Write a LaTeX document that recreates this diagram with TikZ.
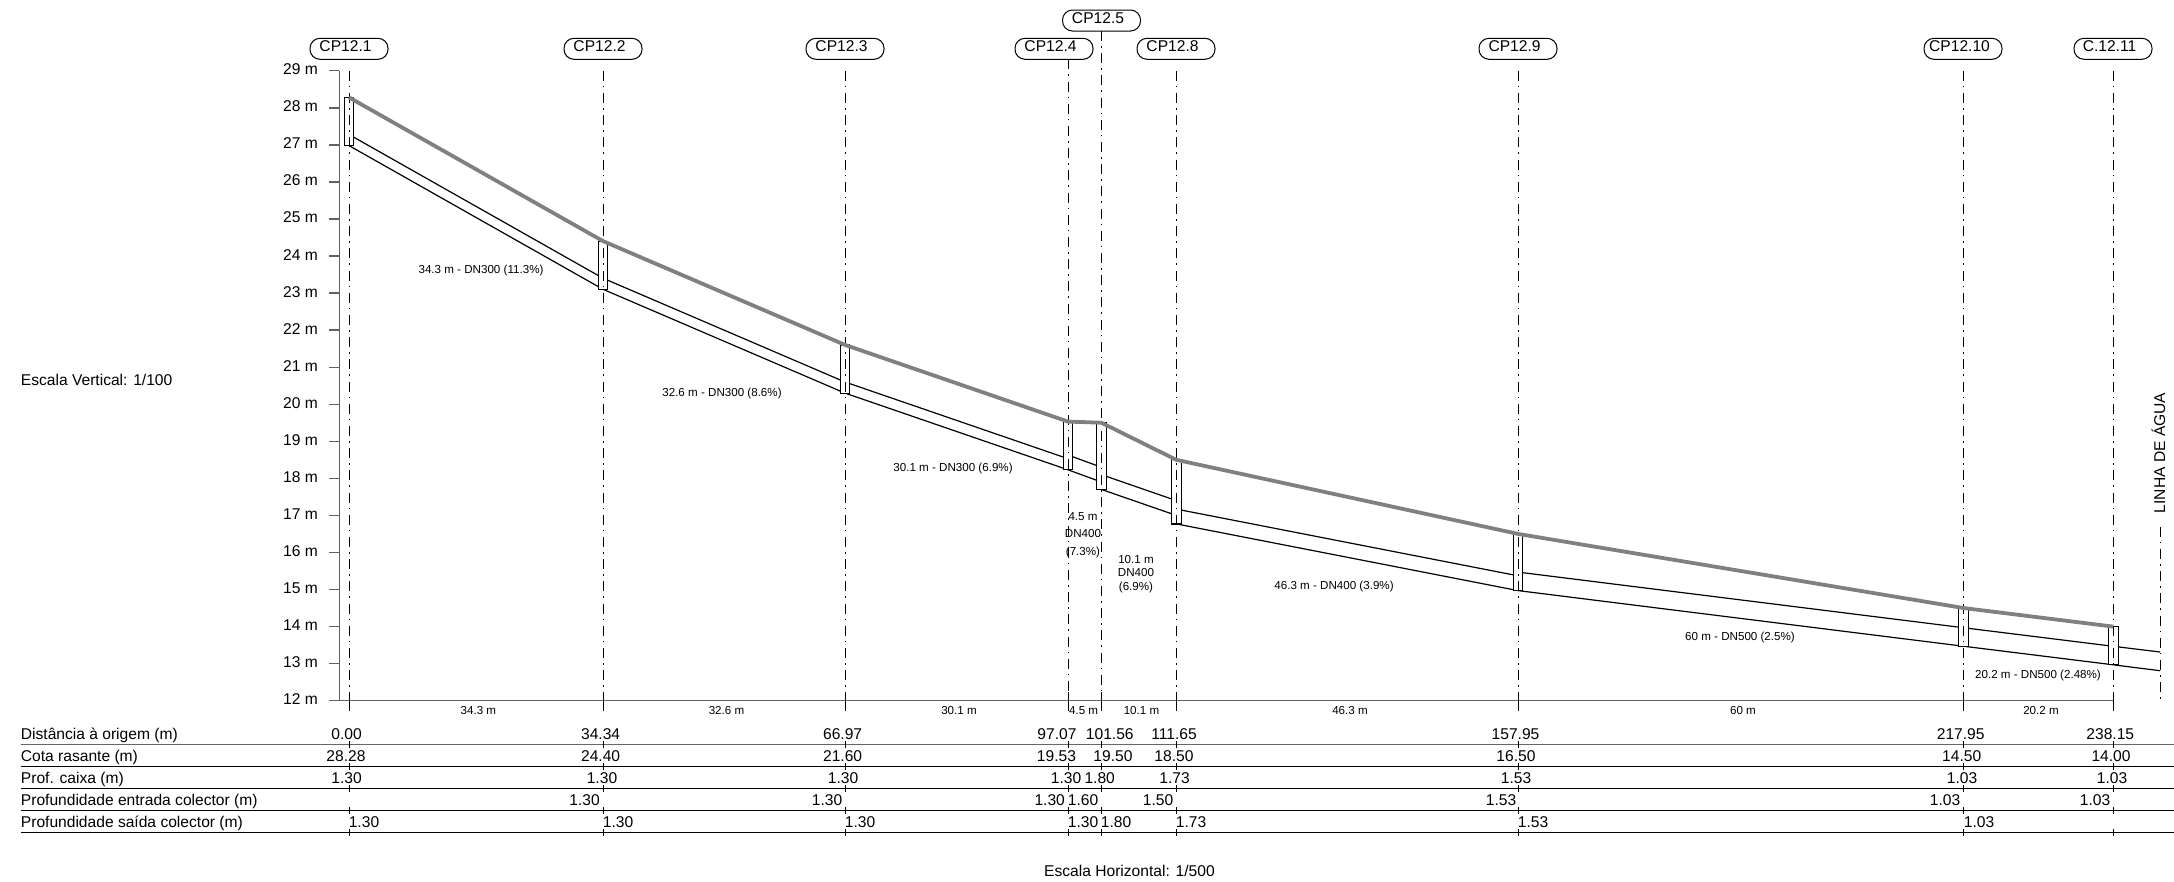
\documentclass[tikz,border=0pt]{standalone}
\usepackage{fontspec}
\setmainfont{Liberation Sans}
\usepackage{tikz}

\begin{document}
\begin{tikzpicture}[x=1pt,y=-1pt,
    txt/.style={inner sep=0pt,text height=11pt,text depth=0pt,font=\fontsize{15.6pt}{18pt}\selectfont},
    small/.style={inner sep=0pt,text height=8.2pt,text depth=0pt,font=\fontsize{11.6pt}{14pt}\selectfont},
    pill/.style={draw,line width=1pt,rounded corners=10pt,minimum width=78pt,minimum height=21pt,inner sep=0pt,text height=11pt,text depth=5pt,font=\fontsize{15.6pt}{18pt}\selectfont},
    eixo/.style={draw=black!62,line width=1.4pt},
    pipe/.style={draw=black,line width=1.2pt},
    rasante/.style={draw=black!50,line width=3.8pt,line join=round},
    caixa/.style={draw=black,fill=white,line width=1.2pt},
    centro/.style={draw=black,line width=1pt,dash pattern=on 10pt off 5pt on 1.6pt off 5.6pt},
    regua/.style={draw=black,line width=1pt},
    marca/.style={draw=black,line width=0.8pt}]
    \useasboundingbox (0,0) rectangle (2174,881);

    % Road level at each station
    \coordinate (R1) at (349,97.4);
    \coordinate (R2) at (603,241.1);
    \coordinate (R3) at (845,344.9);
    \coordinate (R4) at (1068,421.6);
    \coordinate (R5) at (1101.3,422.7);
    \coordinate (R8) at (1176.3,459.8);
    \coordinate (R9) at (1518,533.9);
    \coordinate (R10) at (1963.3,608);
    \coordinate (R11) at (2113.3,626.6);

    % Top and bottom ends of the station lines
    \coordinate (T1) at (349,70.7);
    \coordinate (T2) at (603,70.7);
    \coordinate (T3) at (845,70.7);
    \coordinate (T4) at (1068,59.3);
    \coordinate (T5) at (1101.3,31);
    \coordinate (T8) at (1176.3,70.7);
    \coordinate (T9) at (1518,70.7);
    \coordinate (T10) at (1963.3,70.7);
    \coordinate (T11) at (2113.3,70.7);
    \coordinate (B1) at (349,710.7);
    \coordinate (B2) at (603,710.7);
    \coordinate (B3) at (845,710.7);
    \coordinate (B4) at (1068,710.7);
    \coordinate (B5) at (1101.3,710.7);
    \coordinate (B8) at (1176.3,710.7);
    \coordinate (B9) at (1518,710.7);
    \coordinate (B10) at (1963.3,710.7);
    \coordinate (B11) at (2113.3,710.7);

    % Station names
    \node[pill] (cp1) at (349,48.8) {CP12.1\kern7pt};
    \node[pill] (cp2) at (603,48.8) {CP12.2\kern7pt};
    \node[pill] (cp3) at (845,48.8) {CP12.3\kern7pt};
    \node[pill] (cp4) at (1054,48.8) {CP12.4\kern7pt};
    \node[pill] (cp5) at (1101.5,20.5) {CP12.5\kern7pt};
    \node[pill] (cp8) at (1176,48.8) {CP12.8\kern7pt};
    \node[pill] (cp9) at (1518,48.8) {CP12.9\kern7pt};
    \node[pill] (cp10) at (1963,48.8) {CP12.10\kern7pt};
    \node[pill] (cp11) at (2113,48.8) {C.12.11\kern7pt};

    % Vertical scale
    \draw[eixo] (339.3,70.7) -- (339.3,700.7) -- (2113.3,700.7);
    \draw[eixo] (329,70.7) -- (339.3,70.7);
    \draw[eixo] (329,107.8) -- (339.3,107.8);
    \draw[eixo] (329,144.8) -- (339.3,144.8);
    \draw[eixo] (329,181.9) -- (339.3,181.9);
    \draw[eixo] (329,218.9) -- (339.3,218.9);
    \draw[eixo] (329,256) -- (339.3,256);
    \draw[eixo] (329,293.1) -- (339.3,293.1);
    \draw[eixo] (329,330.1) -- (339.3,330.1);
    \draw[eixo] (329,367.2) -- (339.3,367.2);
    \draw[eixo] (329,404.2) -- (339.3,404.2);
    \draw[eixo] (329,441.3) -- (339.3,441.3);
    \draw[eixo] (329,478.3) -- (339.3,478.3);
    \draw[eixo] (329,515.4) -- (339.3,515.4);
    \draw[eixo] (329,552.5) -- (339.3,552.5);
    \draw[eixo] (329,589.5) -- (339.3,589.5);
    \draw[eixo] (329,626.6) -- (339.3,626.6);
    \draw[eixo] (329,663.6) -- (339.3,663.6);
    \draw[eixo] (329,700.7) -- (339.3,700.7);
    \node[txt,anchor=east] (m29) at (318,69.2) {29 m};
    \node[txt,anchor=east] (m28) at (318,106.3) {28 m};
    \node[txt,anchor=east] (m27) at (318,143.3) {27 m};
    \node[txt,anchor=east] (m26) at (318,180.4) {26 m};
    \node[txt,anchor=east] (m25) at (318,217.4) {25 m};
    \node[txt,anchor=east] (m24) at (318,254.5) {24 m};
    \node[txt,anchor=east] (m23) at (318,291.6) {23 m};
    \node[txt,anchor=east] (m22) at (318,328.6) {22 m};
    \node[txt,anchor=east] (m21) at (318,365.7) {21 m};
    \node[txt,anchor=east] (m20) at (318,402.7) {20 m};
    \node[txt,anchor=east] (m19) at (318,439.8) {19 m};
    \node[txt,anchor=east] (m18) at (318,476.8) {18 m};
    \node[txt,anchor=east] (m17) at (318,513.9) {17 m};
    \node[txt,anchor=east] (m16) at (318,551) {16 m};
    \node[txt,anchor=east] (m15) at (318,588) {15 m};
    \node[txt,anchor=east] (m14) at (318,625.1) {14 m};
    \node[txt,anchor=east] (m13) at (318,662.1) {13 m};
    \node[txt,anchor=east] (m12) at (318,699.2) {12 m};

    % Pipe, bottom line
    \draw[pipe] (349,145.6) -- (603,289.3) -- (845,393.1) -- (1068,469.8) -- (1101.3,482);
    \draw[pipe] (1101.3,489.4) -- (1176.3,515.4);
    \draw[pipe] (1176.3,523.9) -- (1518,590.6) -- (1963.3,646.2) -- (2113.3,664.8) -- (2160,670.7);

    % Pipe, top line
    \draw[pipe] (349,134.5) -- (603,278.2);
    \draw[pipe] (603,278.2) -- (845,382);
    \draw[pipe] (845,382) -- (1068,458.7);
    \draw[pipe] (1068,455) -- (1101.3,467.2);
    \draw[pipe] (1101.3,474.6) -- (1176.3,500.6);
    \draw[pipe] (1176.3,509.1) -- (1518,575.8);
    \draw[pipe] (1518,572.1) -- (1963.3,627.7);
    \draw[pipe] (1963.3,627.7) -- (2113.3,646.3) -- (2160,652);

    % Inspection boxes
    \draw[caixa] (344.2,97.4) rectangle (353.8,145.6);
    \draw[caixa] (598.2,241.1) rectangle (607.8,289.3);
    \draw[caixa] (840.2,344.9) rectangle (849.8,393.1);
    \draw[caixa] (1063.2,421.6) rectangle (1072.8,469.8);
    \draw[caixa] (1096.5,422.7) rectangle (1106.1,489.4);
    \draw[caixa] (1171.5,459.8) rectangle (1181.1,523.9);
    \draw[caixa] (1513.2,533.9) rectangle (1522.8,590.6);
    \draw[caixa] (1958.5,608) rectangle (1968.1,646.2);
    \draw[caixa] (2108.5,626.6) rectangle (2118.1,664.8);

    % Station lines
    \draw[centro] (T1) -- (B1);
    \draw[centro] (T2) -- (B2);
    \draw[centro] (T3) -- (B3);
    \draw[centro] (T4) -- (B4);
    \draw[centro] (T5) -- (B5);
    \draw[centro] (T8) -- (B8);
    \draw[centro] (T9) -- (B9);
    \draw[centro] (T10) -- (B10);
    \draw[centro] (T11) -- (B11);
    \draw[line width=1pt] (349,692) -- (B1);
    \draw[line width=1pt] (603,692) -- (B2);
    \draw[line width=1pt] (845,692) -- (B3);
    \draw[line width=1pt] (1068,692) -- (B4);
    \draw[line width=1pt] (1101.3,692) -- (B5);
    \draw[line width=1pt] (1176.3,692) -- (B8);
    \draw[line width=1pt] (1518,692) -- (B9);
    \draw[line width=1pt] (1963.3,692) -- (B10);
    \draw[line width=1pt] (2113.3,692) -- (B11);

    % Road surface
    \draw[rasante] (R1) -- (R2) -- (R3) -- (R4) -- (R5) -- (R8) -- (R9) -- (R10) -- (R11);

    % Water line
    \draw[centro] (2160,526.7) -- (2160,700.7);
    \node[txt,rotate=90] (agua) at (2159.5,453) {LINHA DE ÁGUA};

    % Pipe labels
    \node[small] (tr1) at (481,269) {34.3 m - DN300 (11.3\%)};
    \node[small] (tr2) at (722,392.4) {32.6 m - DN300 (8.6\%)};
    \node[small] (tr3) at (953,467) {30.1 m - DN300 (6.9\%)};
    \node[small] (tr4a) at (1083,516.7) {4.5 m};
    \node[small] (tr4b) at (1083,533.5) {DN400};
    \node[small] (tr4c) at (1083,551) {(7.3\%)};
    \node[small] (tr5a) at (1136,559) {10.1 m};
    \node[small] (tr5b) at (1136,572.7) {DN400};
    \node[small] (tr5c) at (1136,586.7) {(6.9\%)};
    \node[small] (tr6) at (1334,585) {46.3 m - DN400 (3.9\%)};
    \node[small] (tr7) at (1740,636.4) {60 m - DN500 (2.5\%)};
    \node[small] (tr8) at (2038,674) {20.2 m - DN500 (2.48\%)};

    % Lengths under the axis
    \node[small] (len1) at (478.4,710) {34.3 m};
    \node[small] (len2) at (726.5,710) {32.6 m};
    \node[small] (len3) at (959,710) {30.1 m};
    \node[small] (len4) at (1083.6,710) {4.5 m};
    \node[small] (len5) at (1141.5,710) {10.1 m};
    \node[small] (len6) at (1350,710) {46.3 m};
    \node[small] (len7) at (1743,710) {60 m};
    \node[small] (len8) at (2041,710) {20.2 m};

    % Table rules
    \draw[regua,draw=black!60] (20.7,744.3) -- (2174,744.3);
    \draw[regua] (20.7,766.7) -- (2174,766.7);
    \draw[regua] (20.7,788.3) -- (2174,788.3);
    \draw[regua] (20.7,810.3) -- (2174,810.3);
    \draw[regua] (20.7,832.3) -- (2174,832.3);

    % Table ticks
    \draw[marca] (349,741) -- (349,747.6) (349,763.4) -- (349,770) (349,785) -- (349,791.6) (349,807) -- (349,813.6) (349,829) -- (349,835.6);
    \draw[marca] (603,741) -- (603,747.6) (603,763.4) -- (603,770) (603,785) -- (603,791.6) (603,807) -- (603,813.6) (603,829) -- (603,835.6);
    \draw[marca] (845,741) -- (845,747.6) (845,763.4) -- (845,770) (845,785) -- (845,791.6) (845,807) -- (845,813.6) (845,829) -- (845,835.6);
    \draw[marca] (1068,741) -- (1068,747.6) (1068,763.4) -- (1068,770) (1068,785) -- (1068,791.6) (1068,807) -- (1068,813.6) (1068,829) -- (1068,835.6);
    \draw[marca] (1101.3,741) -- (1101.3,747.6) (1101.3,763.4) -- (1101.3,770) (1101.3,785) -- (1101.3,791.6) (1101.3,807) -- (1101.3,813.6) (1101.3,829) -- (1101.3,835.6);
    \draw[marca] (1176.3,741) -- (1176.3,747.6) (1176.3,763.4) -- (1176.3,770) (1176.3,785) -- (1176.3,791.6) (1176.3,807) -- (1176.3,813.6) (1176.3,829) -- (1176.3,835.6);
    \draw[marca] (1518,741) -- (1518,747.6) (1518,763.4) -- (1518,770) (1518,785) -- (1518,791.6) (1518,807) -- (1518,813.6) (1518,829) -- (1518,835.6);
    \draw[marca] (1963.3,741) -- (1963.3,747.6) (1963.3,763.4) -- (1963.3,770) (1963.3,785) -- (1963.3,791.6) (1963.3,807) -- (1963.3,813.6) (1963.3,829) -- (1963.3,835.6);
    \draw[marca] (2113.3,741) -- (2113.3,747.6) (2113.3,763.4) -- (2113.3,770) (2113.3,785) -- (2113.3,791.6) (2113.3,807) -- (2113.3,813.6) (2113.3,829) -- (2113.3,835.6);

    % Table row names
    \node[txt,anchor=west] (row1) at (20.7,734) {Distância à origem (m)};
    \node[txt,anchor=west] (row2) at (20.7,756) {Cota rasante (m)};
    \node[txt,anchor=west] (row3) at (20.7,778) {Prof. caixa (m)};
    \node[txt,anchor=west] (row4) at (20.7,800) {Profundidade entrada colector (m)};
    \node[txt,anchor=west] (row5) at (20.7,822) {Profundidade saída colector (m)};

    % Distance row
    \node[txt] (d1) at (346.6,734) {0.00};
    \node[txt] (d2) at (600.6,734) {34.34};
    \node[txt] (d3) at (842.6,734) {66.97};
    \node[txt] (d4) at (1057,734) {97.07};
    \node[txt] (d5) at (1109.8,734) {101.56};
    \node[txt] (d8) at (1174,734) {111.65};
    \node[txt] (d9) at (1515.5,734) {157.95};
    \node[txt] (d10) at (1960.7,734) {217.95};
    \node[txt] (d11) at (2110.3,734) {238.15};

    % Road level row
    \node[txt] (c1) at (346,756) {28.28};
    \node[txt] (c2) at (600.6,756) {24.40};
    \node[txt] (c3) at (842.6,756) {21.60};
    \node[txt] (c4) at (1056.5,756) {19.53};
    \node[txt] (c5) at (1113,756) {19.50};
    \node[txt] (c8) at (1174,756) {18.50};
    \node[txt] (c9) at (1516,756) {16.50};
    \node[txt] (c10) at (1961.7,756) {14.50};
    \node[txt] (c11) at (2111,756) {14.00};

    % Box depth row
    \node[txt] (p1) at (346.6,778) {1.30};
    \node[txt] (p2) at (602,778) {1.30};
    \node[txt] (p3) at (843,778) {1.30};
    \node[txt] (p4) at (1066,778) {1.30};
    \node[txt] (p5) at (1099.7,778) {1.80};
    \node[txt] (p8) at (1174.5,778) {1.73};
    \node[txt] (p9) at (1516,778) {1.53};
    \node[txt] (p10) at (1962,778) {1.03};
    \node[txt] (p11) at (2112,778) {1.03};

    % Inlet depth row
    \node[txt] (e2) at (584.5,800) {1.30};
    \node[txt] (e3) at (827,800) {1.30};
    \node[txt] (e4) at (1049.7,800) {1.30};
    \node[txt] (e5) at (1083,800) {1.60};
    \node[txt] (e8) at (1158,800) {1.50};
    \node[txt] (e9) at (1501,800) {1.53};
    \node[txt] (e10) at (1945,800) {1.03};
    \node[txt] (e11) at (2095,800) {1.03};

    % Outlet depth row
    \node[txt] (s1) at (364,822) {1.30};
    \node[txt] (s2) at (618,822) {1.30};
    \node[txt] (s3) at (860,822) {1.30};
    \node[txt] (s4) at (1083,822) {1.30};
    \node[txt] (s5) at (1116,822) {1.80};
    \node[txt] (s8) at (1191,822) {1.73};
    \node[txt] (s9) at (1533,822) {1.53};
    \node[txt] (s10) at (1979,822) {1.03};

    % Scales
    \node[txt,anchor=west] (escv) at (20.7,380) {Escala Vertical: 1/100};
    \node[txt,anchor=west] (esch) at (1044,871) {Escala Horizontal: 1/500};
\end{tikzpicture}
\end{document}
